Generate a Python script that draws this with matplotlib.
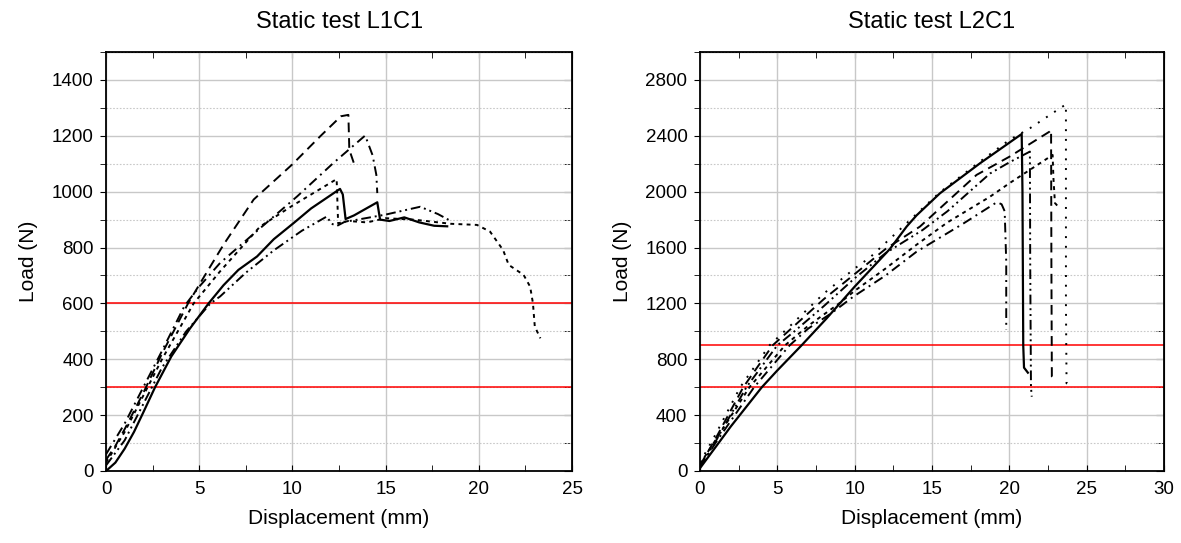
import numpy as np
import matplotlib
matplotlib.use("Agg")
import matplotlib.pyplot as plt
from matplotlib.ticker import MultipleLocator

plt.rcParams['font.family'] = ['Liberation Sans', 'DejaVu Sans']

# ---- L1C1 (left panel) ----
l1_solid_x = [0, 0.5, 1, 1.5, 2, 2.63, 3.5, 4.5, 5.5, 6.3, 7.1, 8.1, 9, 10.07, 11, 12.55, 12.7, 12.85, 13.3, 14.55, 14.7, 15.2, 16, 16.8, 17.6, 18.3]
l1_solid_y = [0, 30, 80, 140, 210, 300, 410, 510, 600, 665, 720, 768, 830, 888, 940, 1010, 990, 902, 915, 962, 900, 895, 908, 890, 878, 876]

l1_dash_x = [0, 0.5, 1, 2, 3, 4.4, 5.3, 6.3, 7.92, 9.98, 11.5, 12.6, 13.0, 13.05, 13.3]
l1_dash_y = [40, 90, 150, 280, 420, 600, 700, 810, 972, 1097, 1199, 1270, 1275, 1150, 1101]

l1_dashdot_x = [0, 1, 2, 3, 4.2, 5, 6.12, 8.28, 10.25, 12.2, 13.9, 14.3, 14.5, 14.55]
l1_dashdot_y = [60, 170, 300, 430, 590, 660, 745, 870, 983, 1103, 1201, 1130, 1060, 995]

l1_short_x = [0, 1, 2, 3, 4.7, 6.12, 8.26, 10, 12.37, 12.45, 13, 14, 15, 16.5, 18.5, 19.9, 20.6, 21.3, 21.6, 22.4, 22.75, 22.9, 23.0, 23.3]
l1_short_y = [30, 140, 270, 400, 600, 715, 875, 950, 1045, 887, 895, 890, 905, 900, 885, 881, 857, 791, 738, 702, 660, 601, 517, 475]

l1_ddot_x = [0, 1, 2, 3, 4.3, 5.6, 6.12, 7.5, 9, 10.5, 11.84, 12.1, 12.4, 12.8, 13.5, 15, 16.85, 17.8, 18.55]
l1_ddot_y = [20, 110, 240, 370, 500, 600, 625, 710, 790, 860, 911, 885, 878, 892, 900, 918, 946, 920, 893]

l1_limits = [300, 600]

# ---- L2C1 (right panel) ----
l2_solid_x = [0, 1, 2, 3, 4, 5, 6.57, 8.19, 10, 12.28, 13.36, 14, 15.51, 18.1, 20.8, 20.85, 20.9, 20.95, 21.2]
l2_solid_y = [20, 170, 320, 460, 600, 720, 900, 1093, 1320, 1590, 1750, 1830, 1988, 2203, 2413, 2000, 900, 740, 704]

l2_sparse_x = [0, 1, 2.6, 4.5, 6, 8, 10, 11, 13.36, 15.5, 18.1, 20, 21.33, 23.2, 23.66, 23.66, 23.7, 24.1]
l2_sparse_y = [60, 260, 600, 900, 1057, 1270, 1450, 1530, 1774, 1995, 2215, 2370, 2454, 2592, 2625, 1200, 628, 604]

l2_dash_x = [0, 1, 2.8, 4.7, 6, 8, 10, 12, 14.22, 17.88, 20, 22.6, 22.7, 22.72, 22.75, 22.95]
l2_dash_y = [40, 230, 600, 900, 1030, 1230, 1410, 1590, 1750, 2120, 2250, 2430, 2442, 1500, 675, 647]

l2_ddot_x = [0, 1, 3.0, 5.0, 6, 8, 10, 12, 14.4, 16, 18.75, 20, 21.33, 21.35, 21.4, 21.45]
l2_ddot_y = [30, 210, 600, 900, 990, 1180, 1380, 1560, 1726, 1860, 2130, 2210, 2287, 1500, 600, 532]

l2_short_x = [0, 1, 3.2, 5.5, 7, 9, 10, 12, 14, 16, 18.75, 20, 22.8, 22.85, 22.95, 23.1]
l2_short_y = [50, 220, 600, 900, 1040, 1200, 1290, 1450, 1620, 1780, 1964, 2060, 2263, 2100, 1919, 1900]

l2_dashdot_x = [0, 1, 3.5, 5.8, 7, 8.5, 9.91, 12, 14, 17, 19.2, 19.5, 19.7, 19.8, 19.8]
l2_dashdot_y = [30, 200, 600, 900, 1020, 1130, 1248, 1400, 1570, 1770, 1925, 1910, 1860, 1500, 1010]

l2_limits = [600, 900]

DASHES = {
    'solid': None,
    'dash': (5, 3),
    'dashdot': (5, 2.5, 1, 2.5),
    'short': (2, 2.2),
    'ddot': (5, 2, 1, 2, 1, 2),
    'sparse': (1, 4),
}


def draw(ax, x, y, style):
    if DASHES[style] is None:
        ax.plot(x, y, color='black', lw=1.6)
    else:
        ax.plot(x, y, color='black', lw=1.4, dashes=DASHES[style])


def style_axes(ax, xmax, xmajor, ymax, ymajor, title):
    ax.set_xlim(0, xmax)
    ax.set_ylim(0, ymax)
    ax.xaxis.set_major_locator(MultipleLocator(xmajor))
    ax.xaxis.set_minor_locator(MultipleLocator(xmajor / 2))
    ax.yaxis.set_major_locator(MultipleLocator(ymajor))
    ax.yaxis.set_minor_locator(MultipleLocator(ymajor / 2))
    ax.grid(True, which='major', color='#c8c8c8', lw=1.0, ls='-')
    ax.grid(True, which='minor', axis='y', color='#c8c8c8', lw=0.8, ls=(0, (1.5, 1.5)))
    ax.set_axisbelow(True)
    ax.tick_params(axis='y', which='both', direction='out', length=4, labelsize=13.5, pad=5)
    ax.tick_params(axis='x', which='both', direction='in', length=4, labelsize=13.5, pad=7)
    # no label on the top major tick
    ax.set_yticks(np.arange(0, ymax, ymajor))
    for sp in ax.spines.values():
        sp.set_linewidth(1.3)
    ax.set_xlabel('Displacement (mm)', fontsize=15, labelpad=8)
    ax.set_ylabel('Load (N)', fontsize=15, labelpad=10)
    ax.set_title(title, fontsize=17, pad=17)
    ry = ax.secondary_yaxis('right')
    ry.yaxis.set_major_locator(MultipleLocator(ymajor))
    ry.yaxis.set_minor_locator(MultipleLocator(ymajor / 2))
    ry.tick_params(which='both', direction='in', length=6, labelright=False)
    tx = ax.secondary_xaxis('top')
    tx.xaxis.set_major_locator(MultipleLocator(xmajor))
    tx.xaxis.set_minor_locator(MultipleLocator(xmajor / 2))
    tx.tick_params(which='both', direction='in', length=4, labeltop=False)


fig = plt.figure(figsize=(11.81, 5.43), dpi=100)
ax1 = fig.add_axes([0.0898, 0.1326, 0.3946, 0.7716])
ax2 = fig.add_axes([0.5927, 0.1326, 0.3929, 0.7716])

for lim in l1_limits:
    ax1.axhline(lim, color='red', lw=1.1)
draw(ax1, l1_short_x, l1_short_y, 'short')
draw(ax1, l1_ddot_x, l1_ddot_y, 'ddot')
draw(ax1, l1_dashdot_x, l1_dashdot_y, 'dashdot')
draw(ax1, l1_dash_x, l1_dash_y, 'dash')
draw(ax1, l1_solid_x, l1_solid_y, 'solid')
style_axes(ax1, 25, 5, 1500, 200, 'Static test L1C1')

for lim in l2_limits:
    ax2.axhline(lim, color='red', lw=1.1)
draw(ax2, l2_sparse_x, l2_sparse_y, 'sparse')
draw(ax2, l2_short_x, l2_short_y, 'short')
draw(ax2, l2_ddot_x, l2_ddot_y, 'ddot')
draw(ax2, l2_dashdot_x, l2_dashdot_y, 'dashdot')
draw(ax2, l2_dash_x, l2_dash_y, 'dash')
draw(ax2, l2_solid_x, l2_solid_y, 'solid')
style_axes(ax2, 30, 5, 3000, 400, 'Static test L2C1')

fig.savefig('out.png', dpi=100)
